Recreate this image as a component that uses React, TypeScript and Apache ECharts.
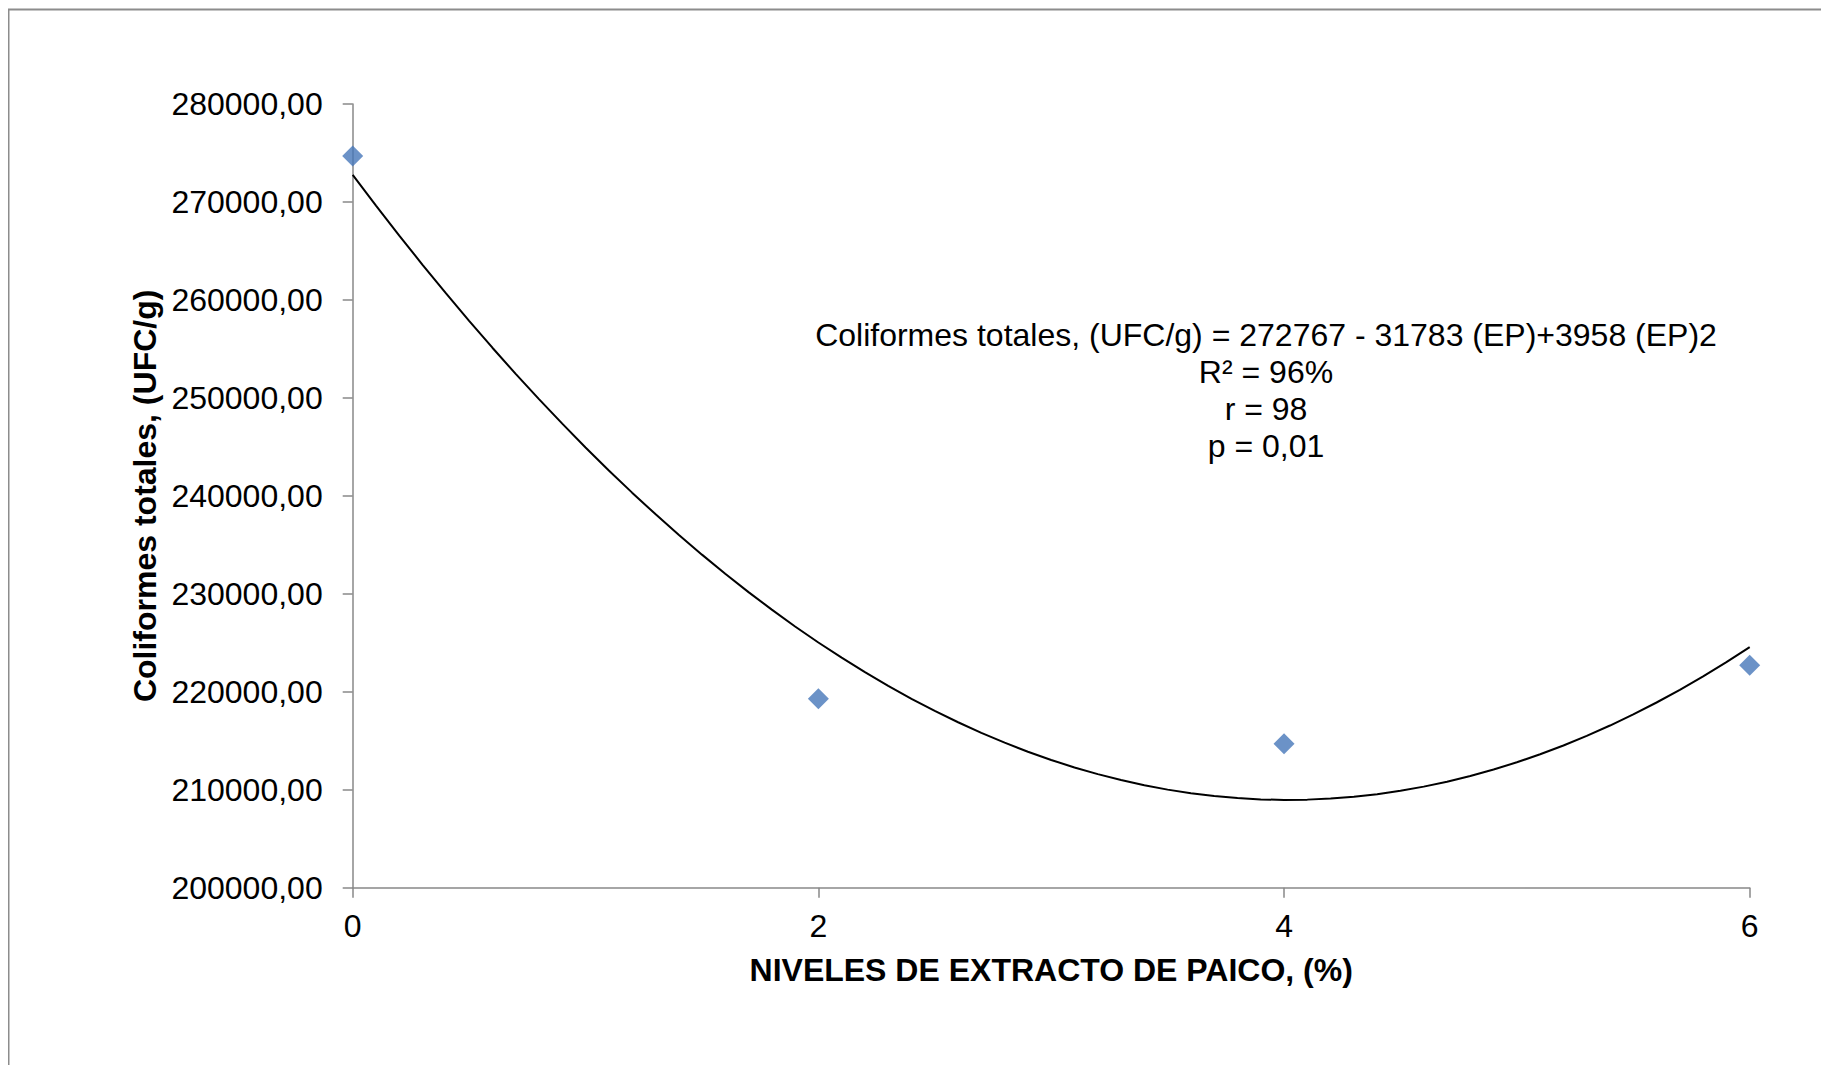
import React, { useEffect, useRef } from "react";
import * as echarts from "echarts";

const levels = [0, 2, 4, 6];
const coliformes = [274700, 219300, 214700, 222700];
const trendCoefficients = [272767, -31783, 3958];
const equationLines = [
  "Coliformes totales, (UFC/g) = 272767 - 31783 (EP)+3958 (EP)2",
  "R² = 96%",
  "r = 98",
  "p = 0,01",
];
const xAxisTitle = "NIVELES DE EXTRACTO DE PAICO, (%)";
const yAxisTitle = "Coliformes totales, (UFC/g)";

const FONT = "'Liberation Sans', Arial, sans-serif";

export default function App() {
  const ref = useRef<HTMLDivElement>(null);
  useEffect(() => {
    if (!ref.current) return;
    const chart = echarts.init(ref.current, undefined, { renderer: "svg" });
    const trend: number[][] = [];
    for (let i = 0; i <= 60; i++) {
      const x = i / 10;
      trend.push([
        x,
        trendCoefficients[0] + trendCoefficients[1] * x + trendCoefficients[2] * x * x,
      ]);
    }
    chart.setOption({
      animation: false,
      backgroundColor: "#ffffff",
      textStyle: { fontFamily: FONT },
      grid: { left: 344.7, right: 79.3, top: 96, bottom: 177.3 },
      xAxis: {
        type: "value",
        min: 0,
        max: 6,
        interval: 2,
        name: xAxisTitle,
        nameLocation: "middle",
        nameGap: 66,
        nameTextStyle: { fontSize: 32, fontWeight: "bold", color: "#000", fontFamily: FONT },
        axisLine: { show: true, lineStyle: { color: "#888888", width: 1.5 } },
        axisTick: { show: true, length: 10, lineStyle: { color: "#888888", width: 1.5 } },
        axisLabel: { fontSize: 32, color: "#000", margin: 22, fontFamily: FONT },
        splitLine: { show: false },
      },
      yAxis: {
        type: "value",
        min: 200000,
        max: 280000,
        interval: 10000,
        name: yAxisTitle,
        nameLocation: "middle",
        nameRotate: 90,
        nameGap: 185,
        nameTextStyle: { fontSize: 32, fontWeight: "bold", color: "#000", fontFamily: FONT },
        axisLine: { show: true, lineStyle: { color: "#888888", width: 1.5 } },
        axisTick: { show: true, length: 10, lineStyle: { color: "#888888", width: 1.5 } },
        axisLabel: {
          fontSize: 32,
          color: "#000",
          margin: 30,
          fontFamily: FONT,
          formatter: (v: number) => v.toFixed(2).replace(".", ","),
        },
        splitLine: { show: false },
      },
      graphic: [
        {
          type: "rect",
          silent: true,
          shape: { x: 0.5, y: 1.5, width: 1900, height: 1200 },
          style: { fill: "none", stroke: "#8c8c8c", lineWidth: 2 },
          z: -10,
        },
        {
          type: "text",
          silent: true,
          x: 1258,
          y: 308,
          style: {
            text: equationLines.join("\n"),
            textAlign: "center",
            textVerticalAlign: "top",
            fontSize: 32,
            lineHeight: 37,
            fill: "#000",
            fontFamily: FONT,
          },
        },
      ],
      series: [
        {
          type: "line",
          data: trend,
          showSymbol: false,
          symbol: "none",
          smooth: false,
          lineStyle: { color: "#000", width: 2 },
          z: 2,
        },
        {
          type: "scatter",
          data: levels.map((x, i) => [x, coliformes[i]]),
          symbol: "diamond",
          symbolSize: 21,
          clip: false,
          itemStyle: { color: "#4677b9" },
          z: 3,
        },
      ],
    });
    return () => chart.dispose();
  }, []);
  return <div ref={ref} style={{ width: 1821, height: 1057 }} />;
}
